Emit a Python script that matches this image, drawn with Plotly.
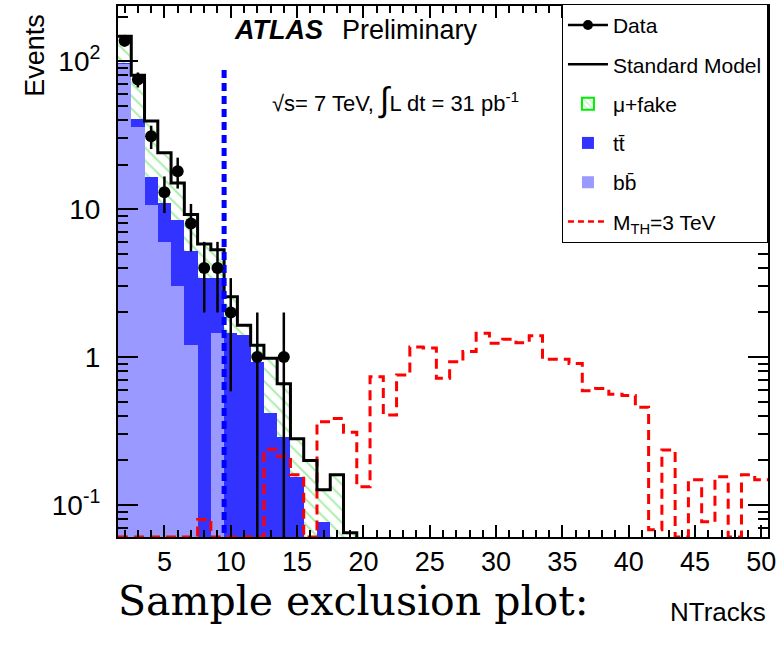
import numpy as np
import plotly.graph_objects as go

# ---------------- data ----------------
bins = list(range(2, 51))  # NTracks bin centres

bb = [96, 36, 10.6, 6.0, 3.0, 1.2, 0, 1.45] + [0] * 41
tt = [1, 4.3, 5.8, 5.0, 5.4, 4.0, 3.4, 1.95, 1.45, 1.4, 0.93, 0.42, 0.29, 0.155, 0, 0.077] + [0] * 33
mufake = [50, 40, 23, 13, 6.6, 4.0, 2.4, 1.9, 1.1, 0.24, 0.27, 0.56, 0.37, 0.125, 0.2, 0.05, 0.16, 0.065] + [0] * 31
data = [137, 75, 31, 13, 18, 8, 4, 4, 2, 0, 1, 0, 1] + [0] * 36
signal = [0, 0, 0, 0, 0, 0, 0.08, 0, 0, 0, 0, 0.238, 0.214, 0.16, 0, 0.366, 0.385, 0.31,
          0.133, 0.736, 0.406, 0.756, 1.17, 1.15, 0.718, 0.93, 1.09, 1.45, 1.24, 1.32, 1.25,
          1.39, 0.965, 0.965, 0.906, 0.593, 0.614, 0.56, 0.55, 0.457, 0.068, 0.235, 0, 0.148,
          0.077, 0.155, 0, 0.16, 0.148]
cut_x = 9.5
cut_top = 90

x_ticks = [5, 10, 15, 20, 25, 30, 35, 40, 45, 50]
y_ticks = [0.1, 1, 10, 100]
y_ticktext = ["10<sup>-1</sup>", "1", "10", "10<sup>2</sup>"]

# ---------------- derived ----------------
b = np.array(bins, float)
bb_a, tt_a, mf_a = np.array(bb, float), np.array(tt, float), np.array(mufake, float)
sm = bb_a + tt_a + mf_a
LOG_LO, LOG_HI = -1.216, 2.372
ymin = 10 ** LOG_LO

edges = np.append(b - 0.5, b[-1] + 0.5)
sm_step = np.append(sm, sm[-1])
sm_step = np.where(sm_step > 0, sm_step, 1e-4)
sig = np.array(signal, float)
sig_step = np.append(sig, sig[-1])
sig_step = np.where(sig_step > 0, sig_step, ymin)

d = np.array(data, float)
mask = d > 0
err_up = np.sqrt(d[mask])
err_dn = np.minimum(np.sqrt(d[mask]), d[mask] * 0.999)

BB_C = "#9999ff"
TT_C = "#3333ff"
HATCH_C = "#55dd55"
FONT = "Liberation Sans, Arial, sans-serif"

fig = go.Figure()

fig.add_trace(go.Bar(x=b, y=bb_a, width=1, marker=dict(color=BB_C, line=dict(width=0)),
                     showlegend=False, hoverinfo="skip"))
fig.add_trace(go.Bar(x=b, y=tt_a, width=1, marker=dict(color=TT_C, line=dict(width=0)),
                     showlegend=False, hoverinfo="skip"))
fig.add_trace(go.Bar(x=b, y=mf_a, width=1,
                     marker=dict(color="white", line=dict(width=0),
                                 pattern=dict(shape="\\", fgcolor=HATCH_C, bgcolor="white",
                                              size=9, solidity=0.22)),
                     showlegend=False, hoverinfo="skip"))

# signal
fig.add_trace(go.Scatter(x=edges, y=sig_step, mode="lines", line_shape="hv",
                         line=dict(color="#ff0000", width=3, dash="10px,6px"),
                         showlegend=False, hoverinfo="skip"))
# SM total
fig.add_trace(go.Scatter(x=edges, y=sm_step, mode="lines", line_shape="hv",
                         line=dict(color="black", width=3),
                         showlegend=False, hoverinfo="skip"))
# cut line
fig.add_trace(go.Scatter(x=[cut_x, cut_x], y=[1e-4, cut_top], mode="lines",
                         line=dict(color="#0000ff", width=5, dash="8px,5px"),
                         showlegend=False, hoverinfo="skip"))
# data
fig.add_trace(go.Scatter(x=b[mask], y=d[mask], mode="markers",
                         marker=dict(color="black", size=12),
                         error_y=dict(type="data", array=err_up, arrayminus=err_dn,
                                      color="black", thickness=2.5, width=0),
                         showlegend=False, hoverinfo="skip"))

# legend entries
fig.add_trace(go.Scatter(x=[None], y=[None], mode="lines+markers", name="Data",
                         legendgroup="a", line=dict(color="black", width=2.5),
                         marker=dict(color="black", size=10)))
fig.add_trace(go.Scatter(x=[None], y=[None], mode="lines", name="Standard Model",
                         legendgroup="b", line=dict(color="black", width=2.5)))
fig.add_trace(go.Bar(x=[None], y=[None], name="\u03bc+fake", legendgroup="c",
                     marker=dict(color="white", line=dict(color="#00ee00", width=2),
                                 pattern=dict(shape="\\", fgcolor=HATCH_C, bgcolor="white",
                                              size=5, solidity=0.25))))
fig.add_trace(go.Bar(x=[None], y=[None], name="tt\u0304", legendgroup="d",
                     marker=dict(color=TT_C, line=dict(width=0))))
fig.add_trace(go.Bar(x=[None], y=[None], name="bb\u0304", legendgroup="e",
                     marker=dict(color=BB_C, line=dict(width=0))))
fig.add_trace(go.Scatter(x=[None], y=[None], mode="lines", name="M<sub>TH</sub>=3 TeV",
                         legendgroup="f", line=dict(color="#ff0000", width=2.5, dash="6px,4px")))

fig.update_layout(
    width=776, height=651,
    margin=dict(l=118, r=8, t=6, b=114, autoexpand=False),
    paper_bgcolor="white", plot_bgcolor="white",
    barmode="stack", bargap=0,
    font=dict(family=FONT, color="black"),
    legend=dict(x=0.683, y=1.004, xanchor="left", yanchor="top",
                bgcolor="white", bordercolor="black", borderwidth=1,
                font=dict(size=21, family=FONT), tracegroupgap=9,
                traceorder="grouped", itemwidth=40),
    xaxis=dict(range=[1.5, 50.5], tickvals=x_ticks, ticks="inside", ticklen=12,
               tickwidth=1.5, tickcolor="black", showline=True, linecolor="black",
               linewidth=2, mirror="ticks", showgrid=False, zeroline=False,
               ticklabeloverflow="allow",
               tickfont=dict(size=27, family=FONT),
               minor=dict(dtick=1, tick0=0, ticks="inside", ticklen=7, tickwidth=1.5,
                          tickcolor="black", showgrid=False)),
    yaxis=dict(type="log", range=[LOG_LO, LOG_HI], tickvals=y_ticks, ticktext=y_ticktext,
               ticks="inside", ticklen=20, tickwidth=1.5, tickcolor="black",
               showline=True, linecolor="black", linewidth=2, mirror="ticks",
               showgrid=False, zeroline=False, ticklabelstandoff=10,
               tickfont=dict(size=28, family=FONT),
               minor=dict(tickmode="array",
                          tickvals=[m * 10.0 ** e for e in range(-2, 3) for m in range(2, 10)],
                          ticks="inside", ticklen=10, tickwidth=1.5, tickcolor="black",
                          showgrid=False)),
    annotations=[
        dict(text="<b><i>ATLAS</i></b>", xref="paper", yref="paper", x=0.1754, y=0.955,
             xanchor="left", yanchor="middle", showarrow=False,
             font=dict(size=27, family=FONT)),
        dict(text="Preliminary", xref="paper", yref="paper", x=0.3415, y=0.955,
             xanchor="left", yanchor="middle", showarrow=False,
             font=dict(size=27, family=FONT)),
        dict(text="\u221as= 7 TeV, <span style='font-size:34px'>\u222b</span>L dt = 31 pb<sup>-1</sup>",
             xref="paper", yref="paper",
             x=0.2338, y=0.823, xanchor="left", yanchor="middle", showarrow=False,
             font=dict(size=22, family=FONT)),
        dict(text="Events", xref="paper", yref="paper", x=-0.1277, y=0.99,
             xanchor="center", yanchor="top", textangle=-90, showarrow=False,
             font=dict(size=27, family=FONT)),
        dict(text="NTracks", xref="paper", yref="paper", x=1.0, y=-0.141,
             xanchor="right", yanchor="middle", showarrow=False,
             font=dict(size=26, family=FONT)),
        dict(text="Sample exclusion plot:", xref="paper", yref="paper", x=-0.003, y=-0.12,
             xanchor="left", yanchor="middle", showarrow=False,
             font=dict(size=41, family="DejaVu Serif, Liberation Serif, serif")),
    ],
)

fig.write_html("out.html")
